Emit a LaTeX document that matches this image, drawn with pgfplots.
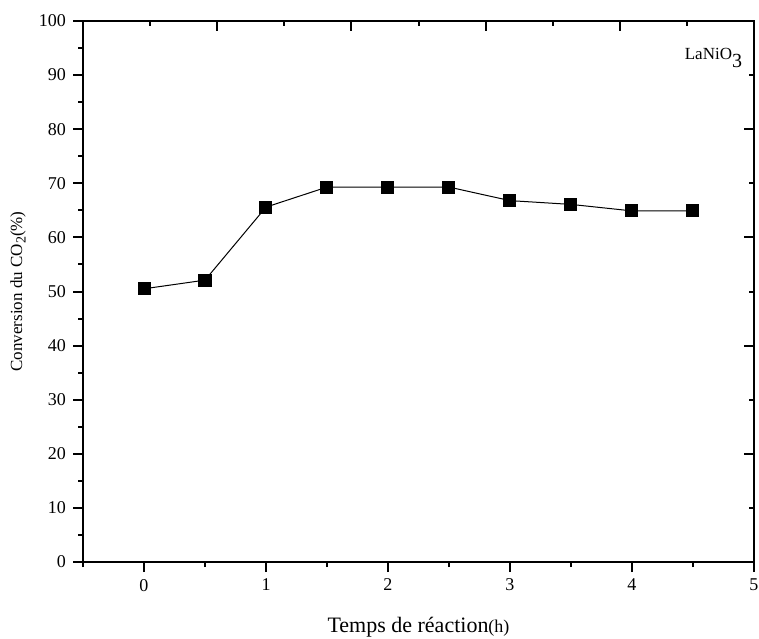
\documentclass[border=0pt]{standalone}
\usepackage{fontspec}
\setmainfont{Liberation Serif}
\usepackage{pgfplots}
\pgfplotsset{compat=1.18}
\begin{document}
\begin{tikzpicture}
\pgfplotsset{
  every axis/.append style={
    scale only axis,
    width=335.5pt, height=270.5pt,
    axis line style={line width=1pt},
    /pgf/number format/assume math mode=true,
  },
}
% main axis: bottom and left scales
\begin{axis}[
  xmin=-0.5, xmax=5, ymin=0, ymax=100,
  xtick={0,1,2,3,4,5},
  minor xtick={-0.5,0.5,1.5,2.5,3.5,4.5},
  ytick={0,10,...,100},
  minor ytick={5,15,...,95},
  xtick pos=bottom, ytick pos=left,
  tick align=outside,
  major tick length=5pt, minor tick length=2.5pt,
  tick style={line width=1pt, black},
  tick label style={font=\fontsize{9}{10}\selectfont},
  xlabel={Temps de réaction{\fontsize{9}{10}\selectfont(h)}},
  ylabel={Conversion du CO\raisebox{-0.45ex}{\fontsize{7}{8}\selectfont 2}(\%)},
  xlabel style={font=\fontsize{11}{12}\selectfont, at={(axis description cs:0.5,-0.12)}, anchor=center},
  ylabel style={font=\fontsize{8.5}{10}\selectfont, at={(axis description cs:-0.097,0.5)}, anchor=center},
  clip=false,
]
\addplot[black, line width=0.5pt, mark=square*, mark size=3pt, mark options={solid, fill=black}]
  coordinates {
    (0,50.5) (0.5,52.1) (1,65.6) (1.5,69.3) (2,69.3)
    (2.5,69.3) (3,66.8) (3.5,66.1) (4,64.9) (4.5,64.9)
  };
\node[anchor=east, font=\fontsize{8.5}{10}\selectfont] at (axis cs:4.96,93.2) {LaNiO\raisebox{-1ex}{\fontsize{10}{11}\selectfont 3}};
\end{axis}
% secondary scales: top and right, inward ticks
\begin{axis}[
  xmin=0, xmax=5, ymin=0, ymax=100,
  xtick={1,2,3,4}, minor xtick={0.5,1.5,2.5,3.5,4.5},
  ytick={20,40,60,80}, minor ytick={10,30,50,70,90},
  xtick pos=top, ytick pos=right,
  tick align=inside,
  major tick length=5pt, minor tick length=2.5pt,
  tick style={line width=1pt, black},
  xticklabels={}, yticklabels={},
]
\end{axis}
\pgfresetboundingbox
\path (current axis.south west) ++(-41.5pt,-38pt) rectangle ++(379.5pt,319pt);
\end{tikzpicture}
\end{document}
